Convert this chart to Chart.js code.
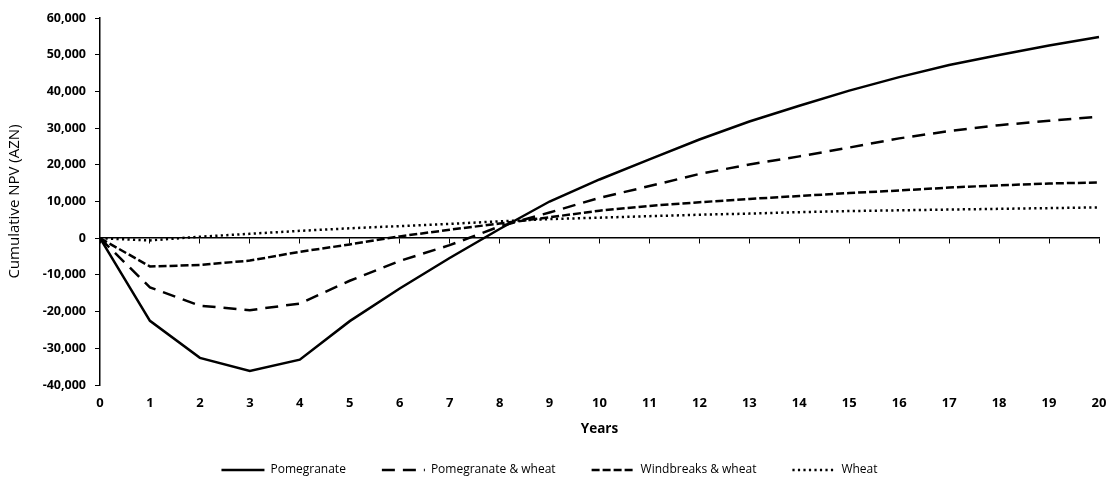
<!DOCTYPE html>
<html lang="en">

<head>
    <meta charset="UTF-8">
    <title>Cumulative NPV</title>
    <script src="https://cdn.jsdelivr.net/npm/chart.js"></script>
    <style>
        html, body { margin: 0; padding: 0; background: #fff; }
        #box { width: 1111px; height: 479px; }
    </style>
</head>

<body>
    <div id="box"><canvas id="grafico"></canvas></div>
    <script>
        const anos = ['0', '1', '2', '3', '4', '5', '6', '7', '8', '9', '10', '11', '12', '13', '14', '15', '16', '17', '18', '19', '20'];
        const pomegranate = [0, -22500, -32600, -36200, -33100, -22600, -13700, -5400, 2500, 10000, 16000, 21500, 26900, 31800, 36100, 40200, 43900, 47200, 49900, 52500, 54800];
        const pomWheat = [0, -13400, -18400, -19600, -17800, -11600, -6200, -1900, 3200, 7000, 11000, 14200, 17500, 20100, 22300, 24700, 27200, 29200, 30800, 32000, 33100];
        const windWheat = [0, -7700, -7300, -6100, -3700, -1700, 500, 2300, 4000, 5700, 7500, 8800, 9800, 10700, 11500, 12300, 13000, 13800, 14400, 14900, 15200];
        const wheat = [0, -600, 400, 1200, 2000, 2700, 3300, 3900, 4600, 5200, 5600, 6000, 6400, 6700, 7100, 7400, 7600, 7800, 8000, 8200, 8400];

        const fonte = 'Open Sans, Noto Sans, sans-serif';

        function serie(label, data, dash) {
            return {
                label: label,
                data: data,
                borderColor: '#000',
                backgroundColor: '#000',
                borderWidth: 2.5,
                borderDash: dash,
                pointRadius: 0,
                tension: 0,
                fill: false
            };
        }

        const ctx = document.getElementById('grafico').getContext('2d');
        const grafico = new Chart(ctx, {
            type: 'line',
            data: {
                labels: anos,
                datasets: [
                    serie('Pomegranate', pomegranate, []),
                    serie('Pomegranate & wheat', pomWheat, [13, 8]),
                    serie('Windbreaks & wheat', windWheat, [8, 3]),
                    serie('Wheat', wheat, [2.2, 3.3])
                ]
            },
            options: {
                responsive: true,
                maintainAspectRatio: false,
                animation: false,
                layout: { padding: { top: 18, right: 12, left: 0, bottom: 0 } },
                plugins: {
                    tooltip: { enabled: false },
                    legend: {
                        position: 'bottom',
                        maxHeight: 51,
                        labels: {
                            color: '#000',
                            font: { family: fonte, size: 12 },
                            usePointStyle: true,
                            pointStyleWidth: 43,
                            padding: 36,
                            // traco da legenda igual ao da linha
                            generateLabels: function (chart) {
                                const itens = Chart.defaults.plugins.legend.labels.generateLabels(chart);
                                itens.forEach(function (item) {
                                    const ds = chart.data.datasets[item.datasetIndex];
                                    item.pointStyle = 'line';
                                    item.lineDash = ds.borderDash;
                                    item.lineWidth = ds.borderWidth;
                                    item.strokeStyle = ds.borderColor;
                                });
                                return itens;
                            }
                        }
                    }
                },
                scales: {
                    // eixo no zero, so com as marcas
                    x: {
                        position: { y: 0 },
                        offset: false,
                        border: { display: true, color: '#000', width: 1.5 },
                        grid: { drawOnChartArea: false, drawTicks: true, tickLength: 5, color: '#000', lineWidth: 1 },
                        ticks: { display: false }
                    },
                    // rotulos embaixo
                    x2: {
                        type: 'category',
                        labels: anos,
                        position: 'bottom',
                        offset: false,
                        border: { display: false },
                        grid: { display: false, drawTicks: false },
                        ticks: {
                            color: '#000',
                            font: { family: fonte, size: 13, weight: 'bold' },
                            maxRotation: 0,
                            autoSkip: false,
                            padding: 10
                        },
                        title: {
                            display: true,
                            text: 'Years',
                            color: '#000',
                            font: { family: fonte, size: 13.5, weight: 'bold' },
                            padding: { top: 0, bottom: -9 }
                        },
                        afterFit: function (scale) {
                            scale.height = 43;
                            scale.paddingRight = 0;
                        }
                    },
                    y: {
                        min: -40000,
                        max: 60000,
                        border: { display: true, color: '#000', width: 1.5 },
                        grid: { drawOnChartArea: false, drawTicks: true, tickLength: 5, color: '#000' },
                        ticks: {
                            stepSize: 10000,
                            color: '#000',
                            padding: 9,
                            font: { family: fonte, size: 12.5, weight: 'bold' },
                            callback: function (v) { return v.toLocaleString('en-US'); }
                        },
                        title: {
                            display: true,
                            text: 'Cumulative NPV (AZN)',
                            color: '#000',
                            font: { family: fonte, size: 15 },
                            padding: { top: 6, bottom: 0 }
                        },
                        afterFit: function (scale) { scale.width = 100; }
                    }
                }
            }
        });
    </script>
</body>

</html>
